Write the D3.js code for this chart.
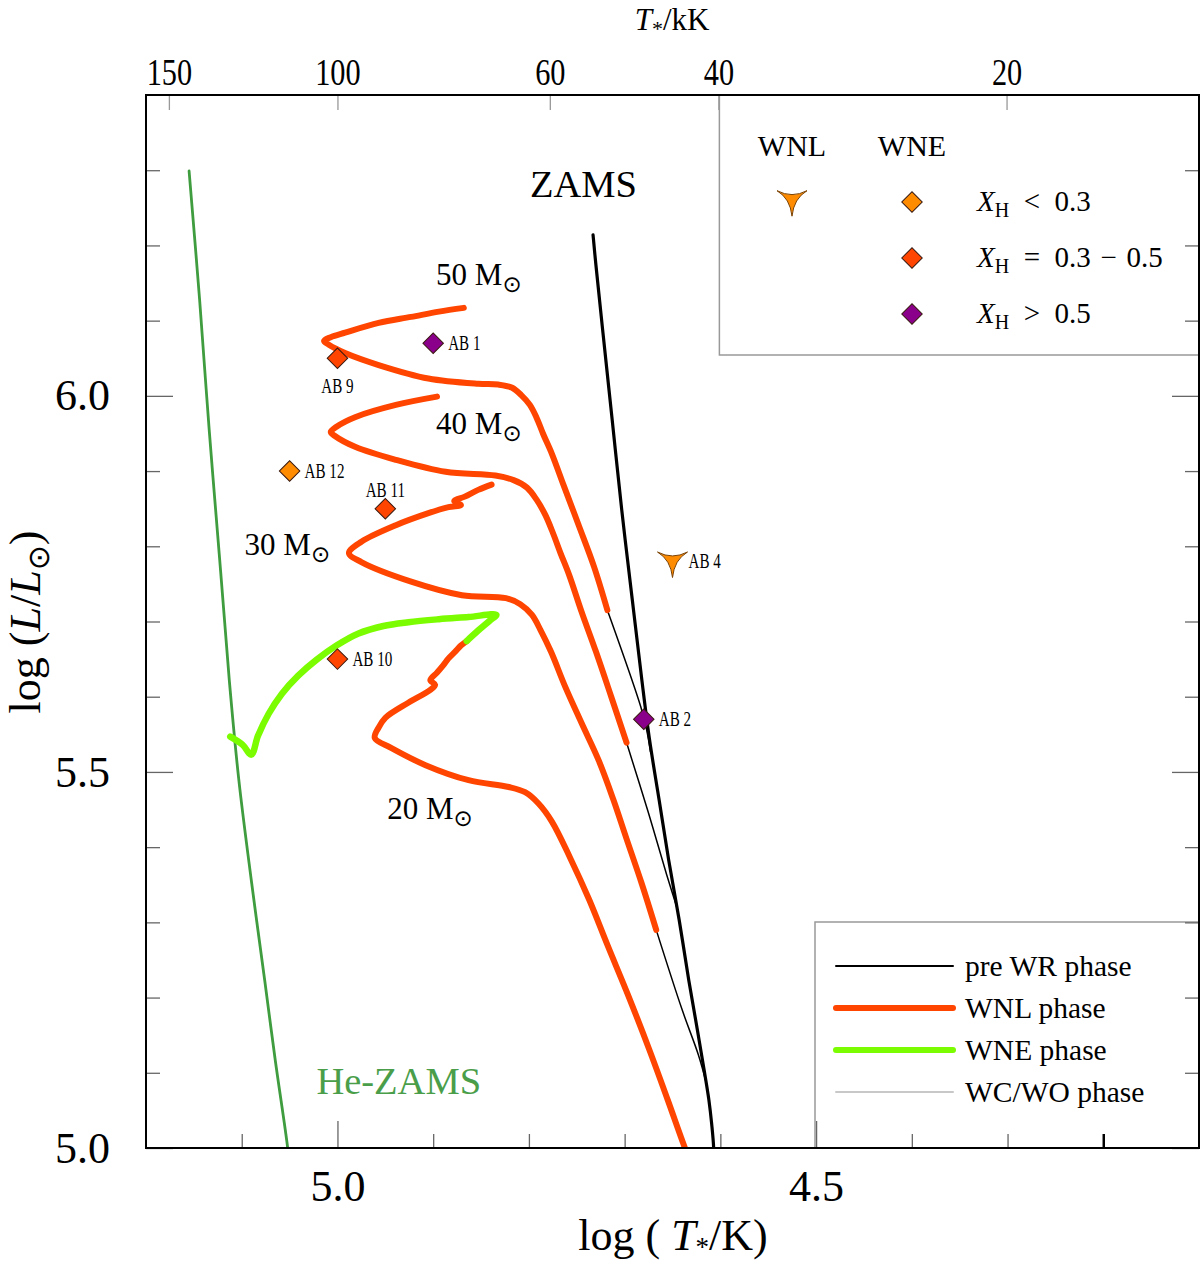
<!DOCTYPE html>
<html>
<head>
<meta charset="utf-8">
<script src="https://cdn.jsdelivr.net/npm/d3@7"></script>
<style>
  body { margin: 0; background: #fff; }
  svg { display: block; }
  text { font-family: "Liberation Serif", "Times New Roman", serif; }
</style>
</head>
<body>
<div id="chart"></div>
<script>
// ---- data (log T in K, log L in Lsun) ----
const heZams = [[5.155, 6.299], [5.144, 6.128], [5.134, 5.955], [5.123, 5.782], [5.113, 5.622],
  [5.103, 5.489], [5.090, 5.356], [5.076, 5.223], [5.065, 5.117], [5.052, 5.000], [5.051, 4.984]];

const zams = [[4.733, 6.214], [4.730, 6.174], [4.723, 6.088], [4.713, 5.968], [4.703, 5.848],
  [4.692, 5.729], [4.682, 5.622], [4.674, 5.543], [4.664, 5.463], [4.654, 5.383], [4.643, 5.303],
  [4.633, 5.223], [4.624, 5.157], [4.617, 5.104], [4.612, 5.064], [4.609, 5.031], [4.607, 5.000],
  [4.607, 4.971]];

// pre WR connections (thin black)
const preWR50 = [[4.718, 5.715], [4.683, 5.586], [4.677, 5.556], [4.673, 5.527]];
const preWR40 = [[4.698, 5.539], [4.675, 5.445], [4.656, 5.363], [4.644, 5.314]];
const preWR30 = [[4.667, 5.290], [4.640, 5.184], [4.623, 5.124], [4.615, 5.088]];

// WNL phase (orange)
const wnl50 = [[4.718, 5.715], [4.732, 5.773], [4.748, 5.828], [4.764, 5.882], [4.776, 5.923],
  [4.785, 5.949], [4.792, 5.971], [4.799, 5.988], [4.808, 6.001], [4.818, 6.011], [4.832, 6.015],
  [4.853, 6.016], [4.905, 6.023], [4.957, 6.041], [4.992, 6.057], [5.009, 6.068], [5.014, 6.073],
  [5.007, 6.078], [4.992, 6.084], [4.957, 6.097], [4.923, 6.105], [4.894, 6.112], [4.868, 6.117]];

const wnl40 = [[4.698, 5.539], [4.714, 5.600], [4.730, 5.660], [4.745, 5.713], [4.758, 5.762],
  [4.767, 5.791], [4.775, 5.818], [4.783, 5.842], [4.792, 5.862], [4.802, 5.878], [4.816, 5.888],
  [4.835, 5.894], [4.887, 5.899], [4.939, 5.915], [4.981, 5.932], [5.003, 5.947], [5.007, 5.952],
  [5.001, 5.959], [4.981, 5.972], [4.939, 5.988], [4.896, 5.999]];

const wnl30 = [[4.667, 5.290], [4.682, 5.351], [4.698, 5.411], [4.712, 5.464], [4.727, 5.515],
  [4.745, 5.565], [4.762, 5.613], [4.777, 5.660], [4.788, 5.689], [4.797, 5.709], [4.809, 5.723],
  [4.824, 5.731], [4.870, 5.735], [4.923, 5.753], [4.975, 5.779], [4.988, 5.791], [4.975, 5.806],
  [4.939, 5.828], [4.905, 5.844], [4.884, 5.852], [4.871, 5.855], [4.878, 5.860], [4.867, 5.866],
  [4.853, 5.875], [4.839, 5.882]];

const wnl20 = [[4.622, 4.951], [4.637, 5.000], [4.655, 5.064], [4.674, 5.130], [4.696, 5.202],
  [4.718, 5.270], [4.737, 5.330], [4.757, 5.386], [4.776, 5.434], [4.790, 5.458],
  [4.804, 5.473], [4.821, 5.480], [4.863, 5.489], [4.908, 5.509], [4.944, 5.532],
  [4.961, 5.545], [4.957, 5.559], [4.950, 5.572], [4.926, 5.592], [4.903, 5.609], [4.898, 5.616],
  [4.903, 5.622], [4.896, 5.632], [4.890, 5.641], [4.884, 5.651], [4.877, 5.660], [4.871, 5.668],
  [4.865, 5.674]];

// WNE phase (green)
const wne20 = [[4.865, 5.674], [4.853, 5.688], [4.841, 5.701], [4.834, 5.709], [4.863, 5.706],
  [4.894, 5.703], [4.926, 5.699], [4.952, 5.694], [4.978, 5.684], [5.001, 5.668], [5.022, 5.649],
  [5.041, 5.628], [5.058, 5.604], [5.072, 5.577], [5.083, 5.548], [5.090, 5.523], [5.099, 5.536],
  [5.112, 5.547]];

// observed stars
const starNames = ["AB 1", "AB 2", "AB 4", "AB 9", "AB 10", "AB 11", "AB 12"];
const starLogT = [4.90, 4.68, 4.65, 5.00, 5.00, 4.95, 5.05];
const starLogL = [6.07, 5.57, 5.78, 6.05, 5.65, 5.85, 5.90];
const starType = ["WNE", "WNE", "WNL", "WNE", "WNE", "WNE", "WNE"];
const starXH = ["> 0.5", "> 0.5", "< 0.3", "0.3 - 0.5", "0.3 - 0.5", "0.3 - 0.5", "< 0.3"];

// annotations
const massLabels = ["50", "40", "30", "20"];
const massLabelT = [4.897, 4.897, 5.097, 4.948];
const massLabelL = [6.148, 5.949, 5.789, 5.437];

// axes / legend
const logTMajor = [5.0, 4.5];
const logTMinor = [5.1, 4.9, 4.8, 4.7, 4.6, 4.4, 4.3, 4.2];
const logLMajor = [6.0, 5.5, 5.0];
const logLMinor = [6.3, 6.2, 6.1, 5.9, 5.8, 5.7, 5.6, 5.4, 5.3, 5.2, 5.1];
const topTicksKK = [150, 100, 60, 40, 20];
const xhClasses = ["< 0.3", "0.3 - 0.5", "> 0.5"];
const xhLabels = ["\u2002<\u20020.3", "\u2002=\u20020.3\u2004\u2212\u20040.5", "\u2002>\u20020.5"];
const phaseNames = ["pre WR phase", "WNL phase", "WNE phase", "WC/WO phase"];

// ---- layout ----
const W = 1200, H = 1266;
const margin = { top: 95, right: 1, bottom: 118, left: 146 };
const width = W - margin.left - margin.right,
  height = H - margin.top - margin.bottom;

const svgRoot = d3.select("#chart").append("svg")
  .attr("width", W).attr("height", H);
const svg = svgRoot.append("g")
  .attr("transform", `translate(${margin.left},${margin.top})`);

const x = d3.scaleLinear().domain([5.2, 4.1]).range([0, width]);
const y = d3.scaleLinear().domain([5.0, 6.4]).range([height, 0]);

const xhColor = d3.scaleOrdinal().domain(xhClasses).range(["#ff8c00", "#ff4500", "#8b008b"]);

svgRoot.append("defs").append("clipPath").attr("id", "plotclip")
  .append("rect").attr("width", width).attr("height", height);

const line = d3.line()
  .x((d) => x(d[0]))
  .y((d) => y(d[1]))
  .curve(d3.curveCatmullRom.alpha(0.5));

const tracks = svg.append("g").attr("clip-path", "url(#plotclip)");

function drawTrack(data, color, w) {
  tracks.append("path")
    .attr("d", line(data))
    .attr("fill", "none")
    .attr("stroke", color)
    .attr("stroke-width", w)
    .attr("stroke-linecap", "round")
    .attr("stroke-linejoin", "round");
}

drawTrack(heZams, "#3f9c3f", 2.8);
drawTrack(zams, "#000", 3.2);
[preWR50, preWR40, preWR30].forEach((t) => drawTrack(t, "#000", 1.5));
[wnl50, wnl40, wnl30, wnl20].forEach((t) => drawTrack(t, "#ff4500", 6));
drawTrack(wne20, "#7cfc00", 6.5);

// ---- track labels ----
function sunLabel(g, px, py, main, size) {
  const t = g.append("text").attr("x", px).attr("y", py).attr("font-size", size);
  t.append("tspan").text(main);
  t.append("tspan").attr("font-family", "DejaVu Sans").attr("font-size", size * 0.74)
    .attr("dy", size * 0.23).text("⊙");
  return t;
}

massLabels.forEach((m, i) => {
  sunLabel(svg, x(massLabelT[i]), y(massLabelL[i]), m + " M", 31);
});

svg.append("text").attr("x", x(4.743)).attr("y", y(6.265))
  .attr("text-anchor", "middle").attr("font-size", 38.5).text("ZAMS");

svg.append("text").attr("x", x(5.022)).attr("y", y(5.072))
  .attr("font-size", 38.5).attr("fill", "#4a9e4a").text("He-ZAMS");

// ---- legend boxes ----
const legTopX = x(Math.log10(40000)) + 1;
svg.append("rect").attr("x", legTopX).attr("y", 0)
  .attr("width", width - legTopX).attr("height", 260)
  .attr("fill", "#fff").attr("stroke", "#999").attr("stroke-width", 1.5);

const legBotX = 669, legBotY = 827;
svg.append("rect").attr("x", legBotX).attr("y", legBotY)
  .attr("width", width - legBotX).attr("height", height - legBotY)
  .attr("fill", "#fff").attr("stroke", "#999").attr("stroke-width", 1.5);

// custom three-cusp symbol for WNL stars
const symbolCusp = {
  draw(ctx, size) {
    const r = Math.sqrt(size) / 2;
    ctx.moveTo(-r, -0.62 * r);
    ctx.quadraticCurveTo(0, -0.1 * r, r, -0.62 * r);
    ctx.quadraticCurveTo(0.12 * r, -0.1 * r, 0, 1.08 * r);
    ctx.quadraticCurveTo(-0.12 * r, -0.1 * r, -r, -0.62 * r);
    ctx.closePath();
  },
};
const diamond = d3.symbol().type(d3.symbolSquare).size(210);
const cusp = d3.symbol().type(symbolCusp).size(900);

function drawMarker(g, px, py, type, xh) {
  const p = g.append("path")
    .attr("d", type === "WNL" ? cusp() : diamond())
    .attr("fill", xhColor(xh))
    .attr("stroke", type === "WNL" ? "#7a4000" : "#3a1a10")
    .attr("stroke-width", 1);
  if (type === "WNL") p.attr("transform", `translate(${px},${py})`);
  else p.attr("transform", `translate(${px},${py}) rotate(45)`);
}

// top legend
const lt = svg.append("g");
lt.append("text").attr("x", 646).attr("y", 61).attr("text-anchor", "middle")
  .attr("font-size", 30).text("WNL");
lt.append("text").attr("x", 766).attr("y", 61).attr("text-anchor", "middle")
  .attr("font-size", 30).text("WNE");
drawMarker(lt, 646, 105, "WNL", "< 0.3");
xhClasses.forEach((c, i) => {
  const ry = 107 + i * 56;
  drawMarker(lt, 766, ry, "WNE", c);
  const t = lt.append("text").attr("x", 831).attr("y", ry + 9).attr("font-size", 29);
  t.append("tspan").attr("font-style", "italic").text("X");
  t.append("tspan").attr("font-size", 20).attr("dy", 6).text("H");
  t.append("tspan").attr("dy", -6).text(xhLabels[i]);
});

// bottom legend
const phaseStroke = ["#000", "#ff4500", "#7cfc00", "#c8c8c8"];
const phaseWidth = [2, 6, 6, 2];
phaseNames.forEach((p, i) => {
  const ly = 871 + i * 42;
  svg.append("line").attr("x1", 690).attr("x2", 807).attr("y1", ly).attr("y2", ly)
    .attr("stroke", phaseStroke[i]).attr("stroke-width", phaseWidth[i])
    .attr("stroke-linecap", "round");
  svg.append("text").attr("x", 819).attr("y", ly + 10).attr("font-size", 29.5).text(p);
});

// ---- stars ----
const stars = svg.append("g");
starNames.forEach((n, i) => {
  const px = x(starLogT[i]), py = y(starLogL[i]);
  drawMarker(stars, px, py, starType[i], starXH[i]);
  let lx = px + 15, ly = py + 7, anchor = "start";
  if (n === "AB 9") { lx = px; ly = py + 35; anchor = "middle"; }
  if (n === "AB 11") { lx = px; ly = py - 12; anchor = "middle"; }
  if (n === "AB 4") { lx = px + 16; ly = py + 7; }
  stars.append("text")
    .attr("transform", `translate(${lx},${ly}) scale(0.72,1)`)
    .attr("text-anchor", anchor)
    .attr("font-size", 21)
    .text(n);
});

// ---- axes ----
function styleAxis(g, size) {
  g.select(".domain").remove();
  g.attr("font-family", "Liberation Serif, Times New Roman, serif").attr("font-size", size);
  g.selectAll(".tick line").attr("stroke", "#666").attr("stroke-width", 1.3);
  g.selectAll(".tick text").attr("fill", "#000");
}

svg.append("g").attr("transform", `translate(0,${height})`)
  .call(d3.axisBottom(x).tickValues(logTMajor).tickSize(-27).tickPadding(22).tickFormat(d3.format(".1f")))
  .call((g) => styleAxis(g, 44));
svg.append("g").attr("transform", `translate(0,${height})`)
  .call(d3.axisBottom(x).tickValues(logTMinor).tickSize(-14).tickFormat(""))
  .call((g) => styleAxis(g, 10))
  .call((g) => g.selectAll(".tick line").filter((d) => d === 4.2)
    .attr("stroke", "#000").attr("stroke-width", 2.5));

svg.append("g")
  .call(d3.axisLeft(y).tickValues(logLMajor).tickSize(-27).tickPadding(36).tickFormat(d3.format(".1f")))
  .call((g) => styleAxis(g, 44));
svg.append("g")
  .call(d3.axisLeft(y).tickValues(logLMinor).tickSize(-14).tickFormat(""))
  .call((g) => styleAxis(g, 10));

svg.append("g").attr("transform", `translate(${width},0)`)
  .call(d3.axisRight(y).tickValues(logLMajor).tickSize(-27).tickFormat(""))
  .call((g) => styleAxis(g, 10));
svg.append("g").attr("transform", `translate(${width},0)`)
  .call(d3.axisRight(y).tickValues(logLMinor).tickSize(-14).tickFormat(""))
  .call((g) => styleAxis(g, 10));

// top axis in kK (positions via the log T scale)
const topAxis = d3.axisTop(x).tickValues(topTicksKK.map((t) => Math.log10(t * 1000)))
  .tickSize(-15).tickPadding(10)
  .tickFormat((d, i) => topTicksKK[i]);
svg.append("g").call(topAxis).call((g) => styleAxis(g, 37))
  .call((g) => g.selectAll(".tick line").attr("stroke", "#999"))
  .call((g) => g.selectAll(".tick text").attr("transform", "scale(0.82,1)"));

// frame
svg.append("rect").attr("width", width).attr("height", height)
  .attr("fill", "none").attr("stroke", "#000").attr("stroke-width", 2);

// axis titles
const xt = svgRoot.append("text").attr("x", 673).attr("y", 1250)
  .attr("text-anchor", "middle").attr("font-size", 44);
xt.append("tspan").text("log ( ");
xt.append("tspan").attr("font-style", "italic").text("T");
xt.append("tspan").attr("font-size", 27).attr("dy", 6).text("*");
xt.append("tspan").attr("dy", -6).text("/K)");

const yt = svgRoot.append("text").attr("transform", "translate(40,622) rotate(-90)")
  .attr("text-anchor", "middle").attr("font-size", 44);
yt.append("tspan").text("log (");
yt.append("tspan").attr("font-style", "italic").text("L");
yt.append("tspan").text("/");
yt.append("tspan").attr("font-style", "italic").text("L");
yt.append("tspan").attr("font-family", "DejaVu Sans").attr("font-size", 30).attr("dy", 9).text("⊙");
yt.append("tspan").attr("dy", -9).text(")");

const tt = svgRoot.append("text").attr("x", 672).attr("y", 30)
  .attr("text-anchor", "middle").attr("font-size", 31);
tt.append("tspan").attr("font-style", "italic").text("T");
tt.append("tspan").attr("font-size", 22).attr("dy", 6).text("*");
tt.append("tspan").attr("dy", -6).text("/kK");
</script>
</body>
</html>
